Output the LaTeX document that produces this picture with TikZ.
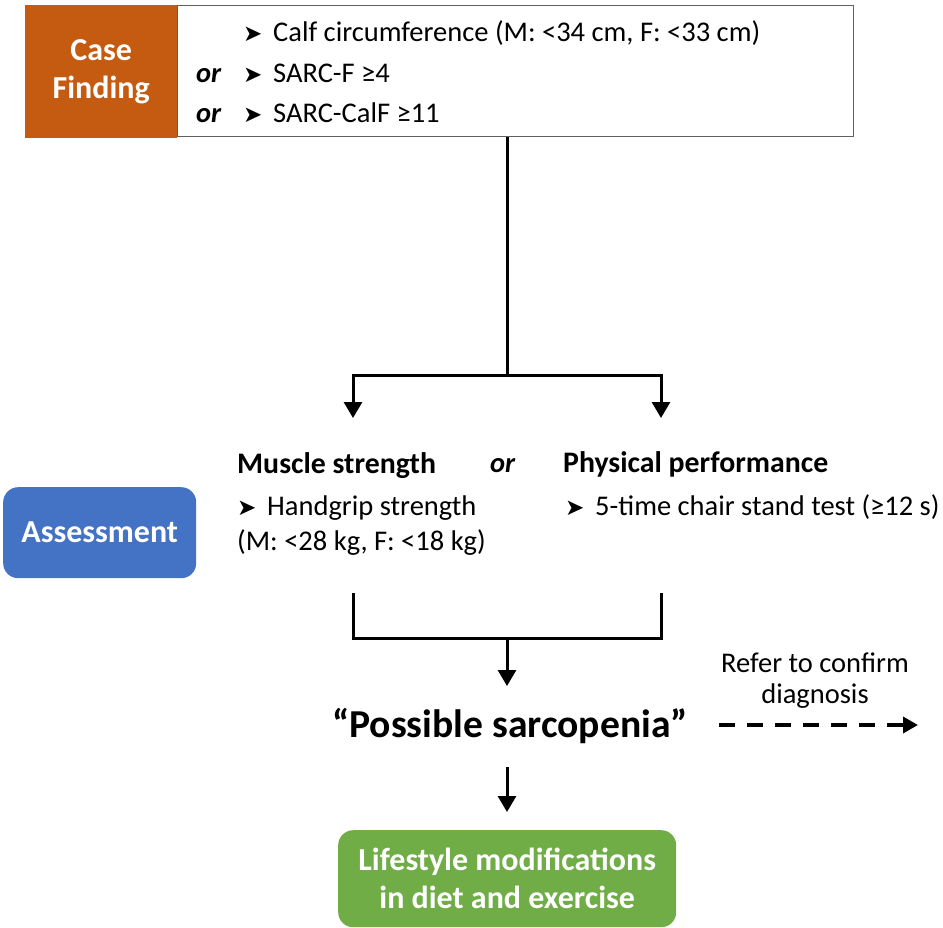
\documentclass[tikz,border=0pt]{standalone}
\usepackage{fontspec}
\setmainfont{Carlito}
\newfontfamily\arrowfont{DejaVu Sans}
\usetikzlibrary{arrows.meta}

\definecolor{cforange}{HTML}{C55A11}
\definecolor{asblue}{HTML}{4472C4}
\definecolor{lsgreen}{HTML}{70AD47}
\definecolor{framegray}{HTML}{606060}

\tikzset{
  body/.style={font=\fontsize{28.5}{34}\selectfont, inner sep=0pt},
  head/.style={font=\fontsize{29.8}{35}\selectfont\bfseries, inner sep=0pt},
  orword/.style={font=\fontsize{28.5}{34}\selectfont\bfseries\itshape, inner sep=0pt},
  bulletmark/.style={font=\arrowfont\fontsize{23}{26}\selectfont, inner sep=0pt},
  labelbox/.style={text=white, font=\fontsize{32}{38}\selectfont\bfseries,
    align=center, inner sep=0pt},
  link/.style={line width=3pt},
  flow/.style={link, -{Triangle[width=18pt,length=16pt]}},
  referarrow/.style={line width=3.5pt, dash pattern=on 16pt off 12pt,
    -{Triangle[width=16pt,length=15pt]}},
}

\begin{document}
\begin{tikzpicture}[x=1pt, y=-1pt]
\useasboundingbox (0,0) rectangle (943,928);

% ---- Case finding ----
\node[draw=framegray, line width=1.3pt, minimum width=676pt, minimum height=131pt,
      anchor=north west, inner sep=0pt] (cfbox) at (177,5) {};
\node[labelbox, fill=cforange, minimum width=152pt, minimum height=133pt,
      anchor=north west] (case) at (25,5) {Case\\Finding};

\node[bulletmark, anchor=base west] (b1) at (243,42) {➤};
\node[body, anchor=base west] (c1) at (273,42) {Calf circumference (M: <34 cm, F: <33 cm)};
\node[orword, anchor=base west] (or1) at (196,83) {or};
\node[bulletmark, anchor=base west] (b2) at (243,83) {➤};
\node[body, anchor=base west] (c2) at (273,83) {SARC-F ≥4};
\node[orword, anchor=base west] (or2) at (196,123) {or};
\node[bulletmark, anchor=base west] (b3) at (243,123) {➤};
\node[body, anchor=base west] (c3) at (273,123) {SARC-CalF ≥11};

% ---- Assessment ----
\node[labelbox, fill=asblue, rounded corners=15pt, minimum width=193pt,
      minimum height=91pt, anchor=north west] (assess) at (3,487) {Assessment};

\node[head, anchor=base west] (ms) at (237,473) {Muscle strength};
\node[orword, anchor=base west] (or3) at (490,472) {or};
\node[head, anchor=base west] (pp) at (563,472) {Physical performance};

\node[bulletmark, anchor=base west] (b4) at (237,515) {➤};
\node[body, anchor=base west] (hg) at (267,515) {Handgrip strength};
\node[body, anchor=base west] (hgv) at (237,550) {(M: <28 kg, F: <18 kg)};
\node[bulletmark, anchor=base west] (b5) at (565,515) {➤};
\node[body, anchor=base west] (cs) at (595,515) {5-time chair stand test (≥12 s)};

% ---- Outcome ----
\node[font=\fontsize{39.6}{46}\selectfont\bfseries, inner sep=0pt, anchor=base]
  (ps) at (510,737) {“Possible sarcopenia”};
\node[body, anchor=base] (ref1) at (815,672) {Refer to confirm};
\node[body, anchor=base] (ref2) at (815,703) {diagnosis};

\node[labelbox, fill=lsgreen, rounded corners=15pt, minimum width=338pt,
      minimum height=97pt, anchor=north west] (life) at (338,830)
  {Lifestyle modifications\\in diet and exercise};

% ---- Connectors ----
\coordinate (split) at (507,375);
\coordinate (tipL) at (353,418);
\coordinate (tipR) at (661,418);
\draw[link] (cfbox.south -| split) -- (split);
\draw[flow] (split) -| (tipL);
\draw[flow] (split) -| (tipR);

\coordinate (bl) at (353,593);
\coordinate (br) at (661,593);
\coordinate (join) at (507,638);
\draw[link] (bl) |- (join) -| (br);
\coordinate (pstip) at (507,686);
\draw[flow] (join) -- (pstip);

\coordinate (lstail) at (507,767);
\coordinate (lstip) at (507,812);
\draw[flow] (lstail) -- (lstip);

\coordinate (refs) at (719,725);
\coordinate (refe) at (918,725);
\draw[referarrow] (refs) -- (refe);
\end{tikzpicture}
\end{document}
